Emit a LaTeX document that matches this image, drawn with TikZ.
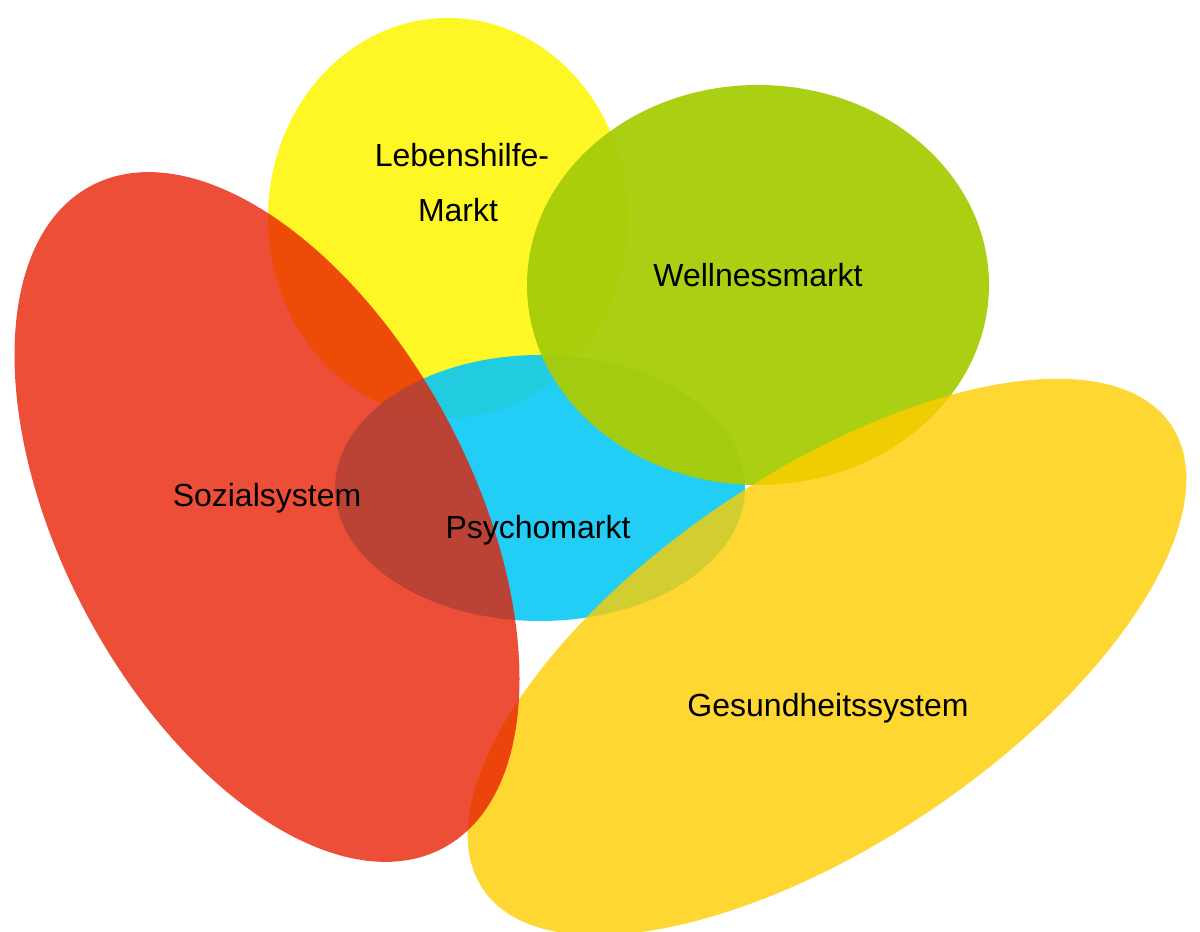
\documentclass[tikz,border=0pt]{standalone}
\usepackage{fontspec}
\setmainfont{Liberation Sans}
\definecolor{cYellow}{RGB}{255,245,0}
\definecolor{cRed}{RGB}{232,28,0}
\definecolor{cCyan}{RGB}{10,200,245}
\definecolor{cGreen}{RGB}{168,205,10}
\definecolor{cGold}{RGB}{255,205,0}
\begin{document}
\begin{tikzpicture}[x=1pt,y=1pt,
  lbl/.style={font=\fontsize{32}{37}\selectfont, text=black, inner sep=0pt, align=center}]
\useasboundingbox (0,0) rectangle (1200,932);
% Lebenshilfe-Markt
\fill[cYellow, fill opacity=0.85] (448,714) ellipse [x radius=180, y radius=200];
% Psychomarkt
\fill[cCyan, fill opacity=0.9] (540,444) ellipse [x radius=205, y radius=133];
% Wellnessmarkt
\fill[cGreen, fill opacity=0.97] (758,647) ellipse [x radius=231, y radius=200];
% Gesundheitssystem
\fill[cGold, fill opacity=0.8, rotate around={34:(827,275)}] (827,275) ellipse [x radius=415, y radius=185];
% Sozialsystem
\fill[cRed, fill opacity=0.78, rotate around={-62:(267,415)}] (267,415) ellipse [x radius=375, y radius=205];
% labels
\node[lbl] (leb) at (462,777) {Lebenshilfe-};
\node[lbl] (mkt) at (458,722) {Markt};
\node[lbl] (well) at (758,657) {Wellnessmarkt};
\node[lbl] (soz) at (267,434) {Sozialsystem};
\node[lbl] (psy) at (538,402) {Psychomarkt};
\node[lbl] (ges) at (828,224) {Gesundheitssystem};
\end{tikzpicture}
\end{document}
